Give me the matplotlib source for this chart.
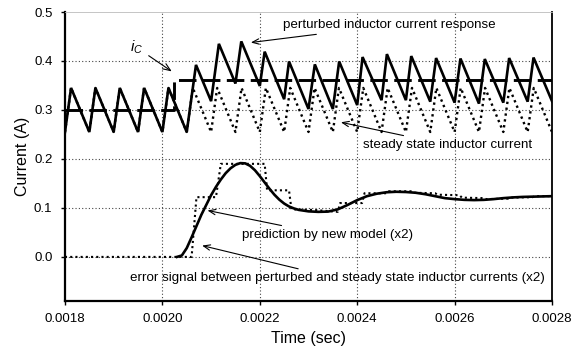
import matplotlib
matplotlib.use("Agg")
import matplotlib.pyplot as plt

plt.rcParams['font.family'] = ['Liberation Sans', 'DejaVu Sans']
plt.rcParams['mathtext.fontset'] = 'custom'
plt.rcParams['mathtext.it'] = 'Liberation Sans:italic'
plt.rcParams['mathtext.rm'] = 'Liberation Sans'

# steady state inductor current: trough / peak vertices (s, A)
ss_t = [0.00180, 0.0018125, 0.00185, 0.0018625, 0.00190, 0.0019125, 0.00195, 0.0019625,
        0.00200, 0.0020125, 0.00205, 0.0020625, 0.00210, 0.0021125, 0.00215, 0.0021625,
        0.00220, 0.0022125, 0.00225, 0.0022625, 0.00230, 0.0023125, 0.00235, 0.0023625,
        0.00240, 0.0024125, 0.00245, 0.0024625, 0.00250, 0.0025125, 0.00255, 0.0025625,
        0.00260, 0.0026125, 0.00265, 0.0026625, 0.00270, 0.0027125, 0.00275, 0.0027625,
        0.00280]
ss_i = [0.255, 0.345, 0.255, 0.345, 0.255, 0.345, 0.255, 0.345,
        0.255, 0.345, 0.255, 0.345, 0.255, 0.345, 0.255, 0.345,
        0.255, 0.345, 0.255, 0.345, 0.255, 0.345, 0.255, 0.345,
        0.255, 0.345, 0.255, 0.345, 0.255, 0.345, 0.255, 0.345,
        0.255, 0.345, 0.255, 0.345, 0.255, 0.345, 0.255, 0.345,
        0.255]

# perturbed inductor current vertices
pt_t = [0.00180, 0.0018125, 0.00185, 0.0018625, 0.00190, 0.0019125, 0.00195, 0.0019625,
        0.00200, 0.0020125, 0.00205, 0.002069, 0.00210, 0.002116, 0.00215, 0.002162,
        0.00220, 0.00221, 0.00225, 0.00226, 0.00230, 0.002313, 0.00235, 0.002363,
        0.00240, 0.002411, 0.00245, 0.002461, 0.00250, 0.002511, 0.00255, 0.002562,
        0.00260, 0.002612, 0.00265, 0.002662, 0.00270, 0.002712, 0.00275, 0.002762,
        0.00280]
pt_i = [0.255, 0.345, 0.255, 0.345, 0.255, 0.345, 0.255, 0.345,
        0.255, 0.345, 0.255, 0.392, 0.318, 0.435, 0.354, 0.440,
        0.349, 0.419, 0.322, 0.399, 0.302, 0.393, 0.302, 0.399,
        0.310, 0.408, 0.320, 0.414, 0.320, 0.410, 0.317, 0.406,
        0.315, 0.405, 0.313, 0.404, 0.315, 0.406, 0.317, 0.407,
        0.318]

# control current reference i_C
ic_t = [0.00180, 0.002023, 0.002023, 0.00280]
ic_i = [0.300, 0.300, 0.361, 0.361]

# error signal between perturbed and steady state currents (x2)
err_t = [0.00180, 0.00206, 0.00207, 0.00211, 0.00212, 0.00221, 0.002215, 0.00226,
         0.002265, 0.00231, 0.00236, 0.002365, 0.00241, 0.002415, 0.00246, 0.002465,
         0.00251, 0.002515, 0.00256, 0.002565, 0.00261, 0.002615, 0.00266, 0.002665,
         0.00271, 0.002715, 0.00276, 0.002765, 0.00280]
err_v = [0.0, 0.0, 0.122, 0.122, 0.190, 0.190, 0.136, 0.136,
         0.097, 0.096, 0.092, 0.110, 0.110, 0.130, 0.130, 0.134,
         0.134, 0.131, 0.130, 0.127, 0.126, 0.121, 0.120, 0.118,
         0.119, 0.121, 0.122, 0.124, 0.124]

# prediction by new model (x2)
pred_t = [0.002030, 0.002040, 0.002050, 0.002060, 0.002070, 0.002080, 0.002090, 0.00210,
          0.00211, 0.00212, 0.00213, 0.00214, 0.00215, 0.00216, 0.00217, 0.00218,
          0.00219, 0.00220, 0.00221, 0.00222, 0.00223, 0.00224, 0.00225, 0.00226,
          0.00227, 0.00228, 0.00230, 0.00232, 0.00234, 0.00236, 0.00238, 0.00240,
          0.00242, 0.00244, 0.00246, 0.00248, 0.00250, 0.00252, 0.00254, 0.00256,
          0.00258, 0.00260, 0.00262, 0.00264, 0.00266, 0.00268, 0.00270, 0.00272,
          0.00274, 0.00276, 0.00278, 0.00280]
pred_v = [0.000, 0.003, 0.018, 0.040, 0.063, 0.086, 0.106, 0.126,
          0.143, 0.158, 0.171, 0.181, 0.188, 0.1915, 0.191, 0.186,
          0.177, 0.165, 0.152, 0.139, 0.127, 0.117, 0.109, 0.103,
          0.099, 0.096, 0.093, 0.092, 0.0925, 0.097, 0.106, 0.116,
          0.124, 0.129, 0.132, 0.133, 0.1325, 0.131, 0.128, 0.124,
          0.120, 0.118, 0.1165, 0.116, 0.1165, 0.118, 0.120, 0.1215,
          0.1225, 0.123, 0.1235, 0.124]

x_ticks = [0.0018, 0.0020, 0.0022, 0.0024, 0.0026, 0.0028]
y_ticks = [0.0, 0.1, 0.2, 0.3, 0.4, 0.5]

fig = plt.figure(figsize=(5.74, 3.5), dpi=100)
ax = fig.add_axes([0.1132, 0.14, 0.8485, 0.8257])

ax.plot(ss_t, ss_i, color='black', lw=1.7, linestyle=(0, (1, 1.5)), zorder=2)
ax.plot(err_t, err_v, color='black', lw=1.5, linestyle=(0, (1, 1.5)), zorder=2)
ax.plot(pred_t, pred_v, color='black', lw=1.9, zorder=3)
ax.plot(ic_t, ic_i, color='black', lw=2.1, linestyle=(0, (6, 2.2)), zorder=3)
ax.plot(pt_t, pt_i, color='black', lw=1.9, solid_joinstyle='miter', zorder=4)

ax.set_xlim(0.0018, 0.0028)
ax.set_ylim(-0.09, 0.5)
ax.set_xticks(x_ticks)
ax.set_xticklabels(['%.4f' % v for v in x_ticks])
ax.set_yticks(y_ticks)
ax.set_yticklabels(['%.1f' % v for v in y_ticks])
ax.tick_params(labelsize=9.5, length=3, width=1, direction='out', pad=6)

for xv in x_ticks[1:-1]:
    ax.axvline(xv, color='#444444', lw=0.8, linestyle=(0, (1, 2)), zorder=1)
for yv in y_ticks[:-1]:
    ax.axhline(yv, color='#444444', lw=0.8, linestyle=(0, (1, 2)), zorder=1)

for side in ['left', 'bottom']:
    ax.spines[side].set_linewidth(1.6)
ax.spines['right'].set_linewidth(1.3)
ax.spines['top'].set_linewidth(0.6)
ax.spines['top'].set_color('#bbbbbb')

ax.set_xlabel('Time (sec)', fontsize=11.5, labelpad=4)
ax.set_ylabel('Current (A)', fontsize=11.5, labelpad=3)

# thin open arrowheads for the callouts
arrow = dict(arrowstyle='->, head_length=0.5, head_width=0.2', color='black', lw=0.8)
ax.annotate('perturbed inductor current response', xy=(0.002176, 0.437),
            xytext=(0.002248, 0.473), fontsize=9.6, va='center', ha='left',
            arrowprops=arrow)
ax.annotate(r'$i_C$', xy=(0.002024, 0.3755), xytext=(0.001948, 0.427),
            fontsize=11, va='center', ha='center', arrowprops=arrow)
ax.annotate('steady state inductor current', xy=(0.002361, 0.276),
            xytext=(0.002412, 0.2286), fontsize=9.6, va='center', ha='left',
            arrowprops=arrow)
ax.annotate('prediction by new model (x2)', xy=(0.002087, 0.096),
            xytext=(0.002163, 0.045), fontsize=9.6, va='center', ha='left',
            arrowprops=arrow)
ax.annotate('error signal between perturbed and steady state inductor currents (x2)',
            xy=(0.002076, 0.0245), xytext=(0.001933, -0.0435), fontsize=9.6,
            va='center', ha='left', arrowprops=arrow)

fig.savefig('out.png', dpi=100)
